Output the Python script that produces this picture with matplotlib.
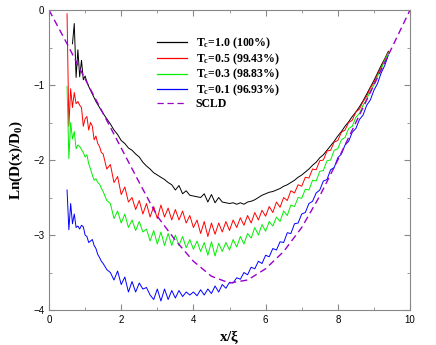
import numpy as np
import matplotlib
matplotlib.use('Agg')
import matplotlib.pyplot as plt
from matplotlib.ticker import MultipleLocator

plt.rcParams['mathtext.fontset'] = 'custom'
plt.rcParams['mathtext.rm'] = 'Liberation Serif:bold'
plt.rcParams['mathtext.it'] = 'Liberation Serif:bold'
plt.rcParams['mathtext.bf'] = 'Liberation Serif:bold'

# sample positions (x/xi): fine near the wall, then every 0.1
x_head = [0.50, 0.55, 0.60, 0.65, 0.70, 0.75, 0.80, 0.85, 0.90, 0.95,
          1.00, 1.05, 1.10, 1.15, 1.20, 1.25, 1.30, 1.35, 1.40, 1.45]
x_body = np.round(np.arange(1.5, 9.45, 0.1), 2)

# Tc = 1.0 (100%)
black_vals = [np.nan, np.nan, np.nan, -0.45, -0.18, -0.90, -0.53, -0.89, -0.67, -0.93,
              -0.88, -0.96, -1.02, -1.07, -1.12, -1.17, -1.22, -1.26, -1.30, -1.34,
              -1.38, -1.45, -1.52, -1.60, -1.66, -1.74, -1.78, -1.84, -1.87, -1.92,
              -1.96, -2.03, -2.08, -2.12, -2.17, -2.20, -2.23, -2.26, -2.30, -2.33,
              -2.40, -2.34, -2.45, -2.41, -2.47, -2.48, -2.49, -2.50, -2.45, -2.56,
              -2.46, -2.57, -2.50, -2.56, -2.57, -2.58, -2.57, -2.59, -2.57, -2.59,
              -2.56, -2.55, -2.53, -2.50, -2.47, -2.45, -2.43, -2.42, -2.40, -2.38,
              -2.35, -2.33, -2.30, -2.27, -2.23, -2.20, -2.16, -2.12, -2.07, -2.03,
              -1.97, -1.93, -1.87, -1.81, -1.75, -1.68, -1.62, -1.55, -1.49, -1.42,
              -1.36, -1.29, -1.21, -1.12, -1.03, -0.94, -0.84, -0.74, -0.65, -0.55]

# Tc = 0.5 (99.43%)
red_vals = [-0.05, -1.55, -1.05, -1.30, -1.10, -1.25, -1.22, -1.27, -1.30, -1.55,
            -1.45, -1.42, -1.60, -1.50, -1.55, -1.73, -1.68, -1.78, -1.82, -1.90,
            -1.92, -2.12, -2.06, -2.30, -2.22, -2.46, -2.36, -2.56, -2.50, -2.66,
            -2.54, -2.72, -2.58, -2.76, -2.62, -2.78, -2.60, -2.76, -2.64, -2.80,
            -2.66, -2.80, -2.68, -2.84, -2.74, -2.90, -2.80, -2.98, -2.82, -3.02,
            -2.84, -2.99, -2.84, -2.96, -2.82, -2.94, -2.80, -2.90, -2.77, -2.87,
            -2.74, -2.84, -2.70, -2.80, -2.67, -2.75, -2.62, -2.70, -2.56, -2.63,
            -2.50, -2.54, -2.41, -2.44, -2.33, -2.35, -2.23, -2.24, -2.12, -2.13,
            -2.01, -2.00, -1.88, -1.87, -1.76, -1.74, -1.63, -1.60, -1.50, -1.47,
            -1.36, -1.32, -1.22, -1.15, -1.04, -0.97, -0.86, -0.77, -0.66, -0.56]

# Tc = 0.3 (98.83%)
green_vals = [-1.02, -1.98, -1.50, -1.72, -1.62, -1.85, -1.80, -1.82, -1.86, -1.90,
              -1.96, -1.93, -2.05, -2.12, -2.20, -2.27, -2.25, -2.30, -2.32, -2.38,
              -2.42, -2.54, -2.58, -2.78, -2.68, -2.84, -2.72, -2.90, -2.80, -2.94,
              -2.82, -2.96, -2.92, -3.08, -2.94, -3.12, -2.96, -3.14, -2.98, -3.14,
              -3.00, -3.14, -3.02, -3.17, -3.06, -3.19, -3.08, -3.22, -3.10, -3.27,
              -3.09, -3.28, -3.11, -3.22, -3.10, -3.20, -3.06, -3.16, -3.02, -3.12,
              -2.98, -3.04, -2.90, -3.00, -2.86, -2.95, -2.82, -2.88, -2.76, -2.82,
              -2.68, -2.74, -2.60, -2.62, -2.50, -2.51, -2.39, -2.40, -2.27, -2.28,
              -2.15, -2.14, -2.01, -2.00, -1.87, -1.85, -1.73, -1.70, -1.58, -1.55,
              -1.43, -1.38, -1.27, -1.19, -1.08, -1.00, -0.88, -0.79, -0.67, -0.57]

# Tc = 0.1 (96.93%)
blue_vals = [-2.40, -2.93, -2.58, -2.85, -2.72, -2.90, -2.88, -2.92, -2.87, -2.89,
             -3.00, -3.02, -3.10, -3.08, -3.06, -3.14, -3.18, -3.26, -3.30, -3.35,
             -3.38, -3.46, -3.50, -3.60, -3.48, -3.66, -3.56, -3.76, -3.62, -3.76,
             -3.64, -3.72, -3.70, -3.80, -3.86, -3.72, -3.88, -3.72, -3.86, -3.74,
             -3.84, -3.74, -3.82, -3.76, -3.80, -3.76, -3.81, -3.73, -3.80, -3.72,
             -3.78, -3.68, -3.76, -3.66, -3.71, -3.63, -3.64, -3.57, -3.59, -3.50,
             -3.53, -3.43, -3.45, -3.35, -3.38, -3.27, -3.29, -3.18, -3.20, -3.09,
             -3.10, -2.97, -2.98, -2.85, -2.84, -2.72, -2.70, -2.58, -2.55, -2.44,
             -2.40, -2.28, -2.26, -2.13, -2.10, -1.97, -1.92, -1.80, -1.75, -1.63,
             -1.58, -1.46, -1.40, -1.27, -1.20, -1.07, -0.98, -0.84, -0.74, -0.60]

# SCLD prediction
scld_x = [0.0, 0.5, 1.0, 1.5, 2.0, 2.5, 3.0, 3.5, 4.0, 4.5, 5.0,
          5.5, 6.0, 6.5, 7.0, 7.5, 8.0, 8.5, 9.0, 9.5, 10.0]
scld_y = [0.0, -0.45, -0.92, -1.38, -1.84, -2.30, -2.75, -3.07, -3.35, -3.55, -3.64,
          -3.60, -3.45, -3.22, -2.90, -2.48, -2.00, -1.50, -1.00, -0.50, 0.0]

labels = [r'T$_{c}$=1.0 (100%)', r'T$_{c}$=0.5 (99.43%)',
          r'T$_{c}$=0.3 (98.83%)', r'T$_{c}$=0.1 (96.93%)']
colors = ['#000000', '#ff0000', '#00ee00', '#0000ff']

x_all = np.concatenate([x_head, x_body])

fig = plt.figure(figsize=(4.36, 3.45), dpi=100)
ax = fig.add_axes([0.1124, 0.1014, 0.828, 0.8696])

for vals, c, lab in zip([black_vals, red_vals, green_vals, blue_vals], colors, labels):
    ax.plot(x_all, vals, color=c, linewidth=0.7, label=lab)
ax.plot(scld_x, scld_y, color='#9900cc', linestyle=(0, (5, 3)), linewidth=1.0, label='SCLD')

ax.set_xlim(0, 10)
ax.set_ylim(-4, 0)
ax.xaxis.set_major_locator(MultipleLocator(2))
ax.xaxis.set_minor_locator(MultipleLocator(1))
ax.yaxis.set_major_locator(MultipleLocator(1))
ax.yaxis.set_minor_locator(MultipleLocator(0.5))
ax.tick_params(which='both', direction='in', top=True, right=True, color='#888888',
               labelsize=7, labelcolor='black')
ax.tick_params(which='major', length=4)
ax.tick_params(which='minor', length=2.5)
for lbl in ax.get_xticklabels() + ax.get_yticklabels():
    lbl.set_family('Liberation Sans')
for sp in ax.spines.values():
    sp.set_color('#888888')
    sp.set_linewidth(0.8)

ax.set_xlabel(r'x/$\xi$', fontsize=11, fontweight='bold', family='Liberation Serif', labelpad=2)
ax.set_ylabel(r'Ln(D(x)/D$_{0}$)', fontsize=11, fontweight='bold', family='Liberation Serif', labelpad=6)

leg = ax.legend(loc='upper left', bbox_to_anchor=(0.285, 0.93), frameon=False,
                prop={'family': 'Liberation Serif', 'weight': 'bold', 'size': 8.5},
                handlelength=2.6, handletextpad=0.7, labelspacing=0.02, borderaxespad=0)
for h in leg.get_lines():
    h.set_linewidth(0.9)

plt.savefig('out.png', dpi=100)
